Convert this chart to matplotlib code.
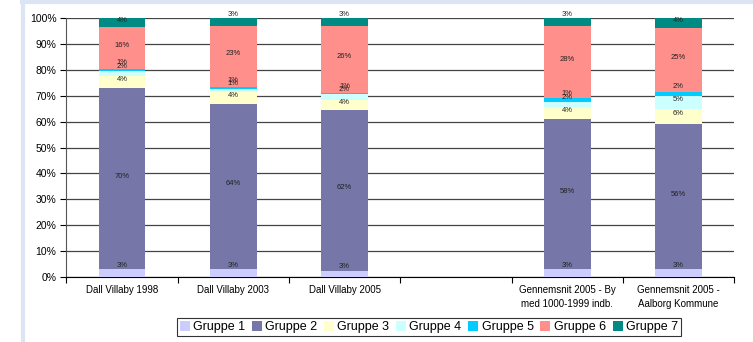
import numpy as np
import matplotlib.pyplot as plt
from matplotlib.lines import Line2D

plt.rcParams['font.family'] = ['Liberation Sans', 'DejaVu Sans']

categories = ["Dall Villaby 1998", "Dall Villaby 2003", "Dall Villaby 2005", "",
              "Gennemsnit 2005 - By\nmed 1000-1999 indb.", "Gennemsnit 2005 -\nAalborg Kommune"]
groups = ["Gruppe 1", "Gruppe 2", "Gruppe 3", "Gruppe 4", "Gruppe 5", "Gruppe 6", "Gruppe 7"]
colors = ["#ccccff", "#7676a8", "#ffffcc", "#ccffff", "#00ccff", "#ff8f8a", "#008a84"]

# segment heights (%) per group, one value per category (empty slot = 0)
g1 = [3, 3, 2.5, 0, 3, 3]
g2 = [70, 64, 62, 0, 58, 56]
g3 = [4.5, 4.5, 4, 0, 4.5, 6]
g4 = [2, 1, 2, 0, 2, 5]
g5 = [1, 1, 0.5, 0, 1.5, 1.5]
g6 = [16, 23.5, 26, 0, 28, 24.5]
g7 = [3.5, 3, 3, 0, 3, 4]

# printed labels
l1 = ["3%", "3%", "3%", "", "3%", "3%"]
l2 = ["70%", "64%", "62%", "", "58%", "56%"]
l3 = ["4%", "4%", "4%", "", "4%", "6%"]
l4 = ["2%", "1%", "2%", "", "2%", "5%"]
l5 = ["1%", "1%", "1%", "", "1%", "2%"]
l6 = ["16%", "23%", "26%", "", "28%", "25%"]
l7 = ["4%", "3%", "3%", "", "3%", "4%"]

values = [g1, g2, g3, g4, g5, g6, g7]
labels = [l1, l2, l3, l4, l5, l6, l7]

fig = plt.figure(figsize=(7.53, 3.42), dpi=100)
ax = fig.add_axes([0.088, 0.19, 0.887, 0.757])

x = np.arange(len(categories))
bottom = np.zeros(len(categories))
for vals, labs, col, name in zip(values, labels, colors, groups):
    vals = np.array(vals, dtype=float)
    ax.bar(x, vals, 0.42, bottom=bottom, color=col, label=name, zorder=3)
    for i in range(len(x)):
        if labs[i]:
            # labels sit a little above the segment centre, small ones pushed further
            ypos = bottom[i] + vals[i] / 2 + 1.0
            if vals[i] <= 3:
                ypos += 1.8
            ax.text(x[i], ypos, labs[i], ha="center", va="center",
                    fontsize=5.5, color="#222222", zorder=4)
    bottom += vals

ax.set_xlim(-0.5, len(categories) - 0.5)
ax.set_ylim(0, 100)
ax.set_yticks(np.arange(0, 101, 10))
ax.set_yticklabels([f"{v}%" for v in range(0, 101, 10)], fontsize=7.5)
ax.yaxis.grid(True, color="#444444", linewidth=0.9, zorder=0)

ax.set_xticks(x)
ax.set_xticklabels(categories, fontsize=7, linespacing=1.5)
ax.tick_params(axis="x", which="major", length=0, pad=6)
ax.set_xticks(np.arange(-0.5, len(categories), 1), minor=True)
ax.tick_params(axis="x", which="minor", length=4, width=0.8, direction="out")
ax.tick_params(axis="y", length=4, width=0.8, pad=3)

for s in ["top", "right"]:
    ax.spines[s].set_visible(False)
ax.spines["left"].set_color("#555555")
ax.spines["bottom"].set_color("#000000")

leg = ax.legend(loc="upper center", bbox_to_anchor=(0.543, -0.158), ncol=7,
                fontsize=9, frameon=True, fancybox=False, edgecolor="black",
                handlelength=0.8, handleheight=0.8, handletextpad=0.25,
                columnspacing=0.55, borderpad=0.25, borderaxespad=0)
leg.get_frame().set_linewidth(0.8)

# light blue page border
fig.add_artist(Line2D([0.031, 0.031], [0, 0.995], transform=fig.transFigure,
                      color="#dbe5f4", linewidth=3))
fig.add_artist(Line2D([0.029, 1.0], [0.995, 0.995], transform=fig.transFigure,
                      color="#dbe5f4", linewidth=3))

fig.savefig("out.png", dpi=100)
